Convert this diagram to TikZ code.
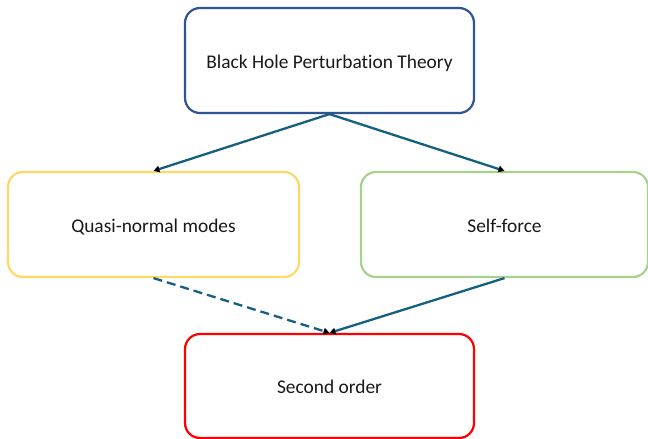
\documentclass[tikz,border=0pt]{standalone}
\usepackage{fontspec}
\setmainfont{Carlito}[Ligatures=NoCommon]
\usetikzlibrary{arrows.meta}
\definecolor{boxblue}{HTML}{2F5597}
\definecolor{boxyellow}{HTML}{FFD966}
\definecolor{boxgreen}{HTML}{A9D18E}
\definecolor{boxred}{HTML}{FF0000}
\definecolor{arrowteal}{HTML}{156082}
\tikzset{
  box/.style={draw, line width=2.2pt, rounded corners=15pt, fill=white, inner sep=0pt,
    font=\fontsize{19.4}{22}\selectfont, text=black!90, text height=15pt, text depth=0pt},
  conn/.style={draw=arrowteal, line width=2.3pt, -{Triangle[black,length=6pt,width=6.5pt]}},
}
\begin{document}
\begin{tikzpicture}[x=1pt,y=-1pt]
\useasboundingbox (0,0) rectangle (648,439);
\node[box, draw=boxblue, minimum width=289pt, minimum height=105pt] (top) at (329.5,60.5) {Black Hole Perturbation Theory};
\node[box, draw=boxyellow, minimum width=291pt, minimum height=105pt] (qnm) at (153.5,224.5) {Quasi-normal modes};
\node[box, draw=boxgreen, minimum width=287pt, minimum height=105pt] (sf) at (504.5,224.5) {Self-force};
\node[box, draw=boxred, minimum width=289pt, minimum height=104pt] (so) at (329.5,386) {Second order};
\draw[conn] (top.south) -- (qnm.north);
\draw[conn] (top.south) -- (sf.north);
\draw[conn, dash pattern=on 9pt off 5pt] (qnm.south) -- (so.north);
\draw[conn] (sf.south) -- (so.north);
\end{tikzpicture}
\end{document}
